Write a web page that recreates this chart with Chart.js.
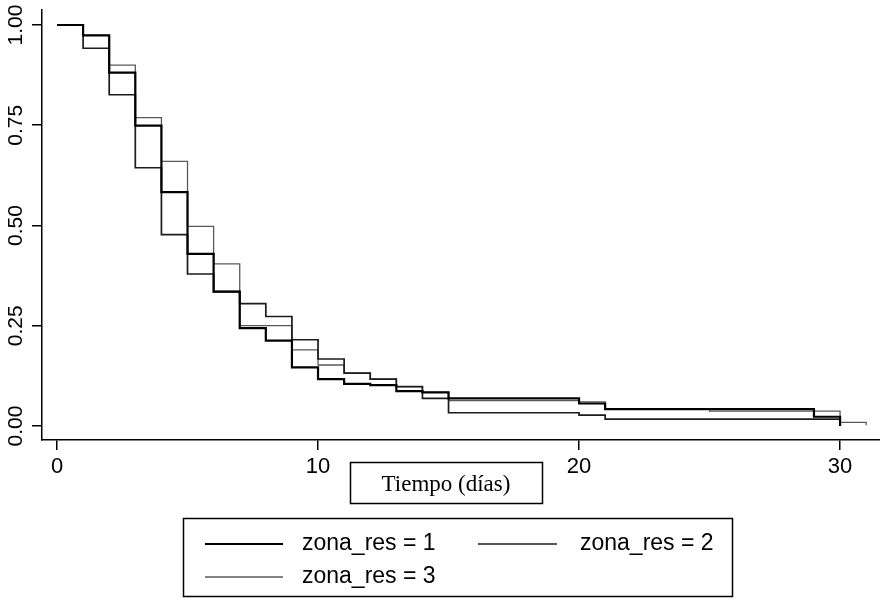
<!DOCTYPE html>
<html>
<head>
<meta charset="utf-8">
<script src="https://cdn.jsdelivr.net/npm/chart.js@4/dist/chart.umd.min.js"></script>
<style>
  html,body{margin:0;padding:0;background:#fff;}
  #wrap{width:880px;height:599px;position:relative;}
</style>
</head>
<body>
<div id="wrap"><canvas id="c" width="880" height="599"></canvas></div>
<script>
// ---- data ----
const times = [0,1,2,3,4,5,6,7,8,9,10,11,12,13,14,15,16,17,18,19,20,21,22,23,24,25,26,27,28,29,30,31,31];
const zona1 = [1.000,0.974,0.881,0.749,0.583,0.429,0.335,0.244,0.213,0.146,0.117,0.105,0.102,0.087,0.084,0.069,0.069,0.069,0.069,0.069,0.056,0.042,0.042,0.042,0.042,0.042,0.042,0.042,0.042,0.023,0.000,null,null];
const zona2 = [1.000,0.942,0.826,0.644,0.477,0.379,0.335,0.305,0.273,0.215,0.167,0.132,0.117,0.098,0.069,0.033,0.033,0.033,0.033,0.033,0.027,0.017,0.017,0.017,0.017,0.017,0.017,0.017,0.017,0.017,0.017,null,null];
const zona3 = [1.000,0.974,0.900,0.769,0.660,0.498,0.404,0.250,0.250,0.190,0.152,0.132,0.117,0.098,0.084,0.063,0.063,0.063,0.063,0.063,0.060,0.042,0.042,0.042,0.042,0.037,0.037,0.037,0.037,0.037,0.009,0.009,0.002];
const seriesNames = ["zona_res = 1","zona_res = 2","zona_res = 3"];
const xTicks = [0,10,20,30];
const yTicks = [0,0.25,0.5,0.75,1];
const yTickLabels = ["0.00","0.25","0.50","0.75","1.00"];
const xTitle = "Tiempo (días)";

const styles = [
  {color:'#000000', width:2.2},
  {color:'#1c1c1c', width:1.7},
  {color:'#5a5a5a', width:1.3}
];

function pts(arr){
  return times.map((t,i)=>({x:t,y:arr[i]})).filter(p=>p.y!==null && p.y!==undefined);
}
const allSeries=[zona1,zona2,zona3];

const SANS = '"Liberation Sans", Arial, sans-serif';
const SERIF = '"Liberation Serif", "Times New Roman", serif';

const decor = {
  id:'decor',
  afterDraw(chart){
    const ctx = chart.ctx;
    const ys = chart.scales.y;
    ctx.save();
    ctx.fillStyle='#000';
    ctx.font = '21px '+SANS;
    ctx.textAlign='center';
    ctx.textBaseline='middle';
    yTicks.forEach((v,i)=>{
      const py = ys.getPixelForValue(v);
      ctx.save();
      ctx.translate(16, py);
      ctx.rotate(-Math.PI/2);
      ctx.fillText(yTickLabels[i],0,0);
      ctx.restore();
    });
    // axis title box
    ctx.strokeStyle='#000';
    ctx.lineWidth=1.5;
    ctx.strokeRect(350.5,462.5,192,41);
    ctx.font='23px '+SERIF;
    ctx.fillText(xTitle, 446, 485);
    // legend box
    ctx.strokeRect(183.5,518.5,549,78);
    const rows=[[205,283,302,544],[478,557,580,544],[205,283,302,577]];
    rows.forEach((r,i)=>{
      ctx.beginPath();
      ctx.strokeStyle=styles[i].color;
      ctx.lineWidth=styles[i].width;
      ctx.moveTo(r[0],r[3]);ctx.lineTo(r[1],r[3]);ctx.stroke();
      ctx.fillStyle='#000';
      ctx.textAlign='left';
      ctx.font='23px '+SANS;
      ctx.fillText(seriesNames[i], r[2], r[3]);
    });
    ctx.restore();
  }
};

new Chart(document.getElementById('c'),{
  type:'line',
  data:{
    datasets: allSeries.map((s,i)=>({
      label:seriesNames[i],
      data:pts(s),
      stepped:'before',
      borderColor:styles[i].color,
      borderWidth:styles[i].width,
      pointRadius:0,
      fill:false,
      tension:0
    }))
  },
  options:{
    animation:false,
    responsive:false,
    devicePixelRatio:1,
    layout:{padding:{top:10,left:0,right:0,bottom:0}},
    plugins:{legend:{display:false},tooltip:{enabled:false}},
    scales:{
      x:{
        type:'linear',
        min:-0.575, max:31.53,
        afterBuildTicks(s){ s.ticks = xTicks.map(v=>({value:v})); },
        afterFit(s){ s.height = 159; },
        grid:{display:true, drawOnChartArea:false, drawTicks:true, tickLength:10, color:'#000', lineWidth:1.5},
        border:{display:true, color:'#000', width:1.5},
        ticks:{color:'#000', font:{family:SANS, size:22}, padding:4, maxRotation:0, minRotation:0,
          callback:(v)=>String(v)}
      },
      y:{
        type:'linear',
        min:-0.035, max:1.0374,
        afterBuildTicks(s){ s.ticks = yTicks.map(v=>({value:v})); },
        afterFit(s){ s.width = 42; },
        grid:{display:true, drawOnChartArea:false, drawTicks:true, tickLength:10, color:'#000', lineWidth:1.5},
        border:{display:true, color:'#000', width:1.5},
        ticks:{display:false}
      }
    }
  },
  plugins:[decor]
});
</script>
</body>
</html>
